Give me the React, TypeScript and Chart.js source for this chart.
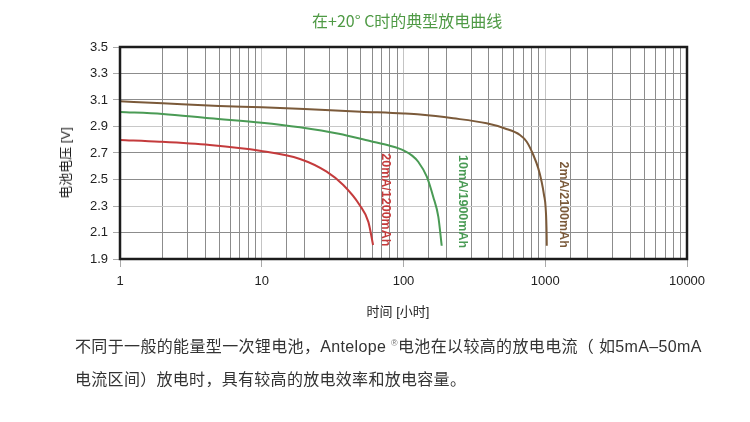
import React, { useEffect, useRef } from "react";
import { Chart, registerables } from "chart.js";

Chart.register(...registerables);

const titleText = "在+20° C时的典型放电曲线";
const yAxisTitle = "电池电压 [V]";
const xAxisTitle = "时间 [小时]";
const noteLine1a = "不同于一般的能量型一次锂电池，Antelope ";
const noteReg = "®";
const noteLine1b = "电池在以较高的放电电流（ 如5mA–50mA";
const noteLine2 = "电流区间）放电时，具有较高的放电效率和放电容量。";

const seriesNames = ["2mA/2100mAh", "10mA/1900mAh", "20mA/1200mAh"];
const seriesColors = ["#7b5a3a", "#4a9b55", "#c43b3c"];

const hours2mA = [1, 2, 5, 10, 20, 50, 100, 131, 224, 386, 520, 663, 740, 824, 893, 943, 980, 1007, 1023, 1025];
const volts2mA = [3.09, 3.075, 3.055, 3.045, 3.032, 3.012, 2.998, 2.99, 2.962, 2.924, 2.885, 2.836, 2.785, 2.685, 2.584, 2.483, 2.383, 2.283, 2.081, 2.0];

const hours10mA = [1, 2, 4.3, 10, 18.6, 35, 58, 80, 100, 115, 127, 146, 162, 176, 186];
const volts10mA = [3.009, 2.995, 2.962, 2.929, 2.894, 2.845, 2.79, 2.755, 2.72, 2.68, 2.634, 2.521, 2.37, 2.22, 2.0];

const hours20mA = [1, 1.9, 4.3, 9.7, 18.6, 28.7, 37.6, 49, 56.5, 61];
const volts20mA = [2.798, 2.785, 2.76, 2.717, 2.655, 2.559, 2.458, 2.308, 2.18, 2.006];

// label anchors: [hour at label centre, voltage at label top]
const labelHours = [1342, 259, 74.6];
const labelTopVolts = [2.635, 2.685, 2.698];

const yMin = 1.9;
const yMax = 3.5;
const yStep = 0.2;
const xMin = 1;
const xMax = 10000;
const xTickLabels = [1, 10, 100, 1000, 10000];
const lightYGrid = [2.3, 2.9];

const toPoints = (xs: number[], ys: number[]) => xs.map((x, i) => ({ x, y: ys[i] }));

const labelPlugin = {
  id: "curveLabelsAndFrame",
  afterDatasetsDraw(chart: any) {
    const { ctx, chartArea, scales } = chart;
    ctx.save();
    ctx.strokeStyle = "#1c1c1c";
    ctx.lineWidth = 2.5;
    ctx.strokeRect(chartArea.left, chartArea.top, chartArea.right - chartArea.left, chartArea.bottom - chartArea.top);
    ctx.font = "bold 12.5px 'Liberation Sans', Arial, sans-serif";
    ctx.textBaseline = "middle";
    ctx.textAlign = "left";
    seriesNames.forEach((name, i) => {
      const px = scales.x.getPixelForValue(labelHours[i]);
      const py = scales.y.getPixelForValue(labelTopVolts[i]);
      ctx.save();
      ctx.translate(px, py);
      ctx.rotate(Math.PI / 2);
      ctx.fillStyle = seriesColors[i];
      ctx.fillText(name, 0, 0);
      ctx.restore();
    });
    ctx.restore();
  },
};

export default function App() {
  const ref = useRef<HTMLCanvasElement | null>(null);

  useEffect(() => {
    if (!ref.current) return;
    const isMajor = (v: number) => xTickLabels.includes(Math.round(v * 1000) / 1000);
    const chart = new Chart(ref.current, {
      type: "line",
      data: {
        datasets: [
          { label: seriesNames[0], data: toPoints(hours2mA, volts2mA), borderColor: seriesColors[0] },
          { label: seriesNames[1], data: toPoints(hours10mA, volts10mA), borderColor: seriesColors[1] },
          { label: seriesNames[2], data: toPoints(hours20mA, volts20mA), borderColor: seriesColors[2] },
        ].map((d) => ({
          ...d,
          borderWidth: 2,
          pointRadius: 0,
          fill: false,
          cubicInterpolationMode: "monotone" as const,
        })),
      },
      options: {
        animation: false,
        responsive: false,
        devicePixelRatio: 1,
        layout: { padding: { left: 0, top: 47, right: 63, bottom: 123 } },
        plugins: { legend: { display: false }, tooltip: { enabled: false }, title: { display: false } },
        scales: {
          x: {
            type: "logarithmic",
            min: xMin,
            max: xMax,
            afterFit: (s: any) => {
              s.height = 40;
            },
            border: { display: false },
            grid: {
              color: (c: any) => {
                const v = c.tick?.value;
                if (v === undefined) return "#8c8c8c";
                return isMajor(v) ? "#c4c4c4" : "#8c8c8c";
              },
              lineWidth: 1,
              tickLength: 8,
              tickColor: (c: any) => {
                const v = c.tick?.value;
                return v !== undefined && isMajor(v) ? "#aaaaaa" : "rgba(0,0,0,0)";
              },
            },
            ticks: {
              autoSkip: false,
              maxRotation: 0,
              padding: 7,
              color: "#222",
              font: { family: "'Liberation Sans', Arial, sans-serif", size: 13 },
              callback: (v: any) => (isMajor(Number(v)) ? String(Math.round(Number(v))) : ""),
            },
          },
          y: {
            type: "linear",
            min: yMin,
            max: yMax,
            afterFit: (s: any) => {
              s.width = 120;
            },
            border: { display: false },
            grid: {
              color: (c: any) => {
                const v = c.tick?.value;
                if (v === undefined) return "#8c8c8c";
                return lightYGrid.some((l) => Math.abs(l - v) < 1e-6) ? "#c8c8c8" : "#8c8c8c";
              },
              lineWidth: 1,
              tickLength: 7,
              tickColor: "#aaaaaa",
            },
            ticks: {
              stepSize: yStep,
              padding: 5,
              color: "#222",
              font: { family: "'Liberation Sans', Arial, sans-serif", size: 13 },
              callback: (v: any) => Number(v).toFixed(1),
            },
          },
        },
      },
      plugins: [labelPlugin],
    } as any);
    return () => chart.destroy();
  }, []);

  const cjk = "'Liberation Sans', 'Noto Sans CJK SC', Arial, sans-serif";

  return (
    <div style={{ position: "fixed", left: 0, top: 0, width: 750, height: 422, background: "#fff", overflow: "hidden" }}>
      <canvas ref={ref} width={750} height={422} style={{ position: "absolute", left: 0, top: 0, width: 750, height: 422 }} />
      <div
        style={{
          position: "absolute",
          left: 312,
          top: 9,
          lineHeight: "22px",
          fontSize: 16,
          fontFamily: "'Noto Sans CJK SC', sans-serif",
          color: "#4f9a45",
          whiteSpace: "nowrap",
        }}
      >
        {titleText}
      </div>
      <div
        style={{
          position: "absolute",
          left: 66,
          top: 163,
          transform: "translate(-50%, -50%) rotate(-90deg)",
          fontSize: 13,
          lineHeight: "16px",
          fontFamily: cjk,
          color: "#222",
          whiteSpace: "nowrap",
        }}
      >
        {yAxisTitle}
      </div>
      <div
        style={{
          position: "absolute",
          left: 398,
          top: 312,
          transform: "translate(-50%, -50%)",
          fontSize: 13,
          lineHeight: "16px",
          fontFamily: cjk,
          color: "#222",
          whiteSpace: "nowrap",
        }}
      >
        {xAxisTitle}
      </div>
      <div
        style={{
          position: "absolute",
          left: 75,
          top: 332,
          fontSize: 16,
          lineHeight: "22px",
          letterSpacing: "0.35px",
          fontFamily: cjk,
          color: "#333",
          whiteSpace: "nowrap",
        }}
      >
        {noteLine1a}
        <sup style={{ fontSize: 9, color: "#777" }}>{noteReg}</sup>
        {noteLine1b}
      </div>
      <div
        style={{
          position: "absolute",
          left: 75,
          top: 369,
          fontSize: 16,
          lineHeight: "22px",
          letterSpacing: "0.3px",
          fontFamily: cjk,
          color: "#333",
          whiteSpace: "nowrap",
        }}
      >
        {noteLine2}
      </div>
    </div>
  );
}
